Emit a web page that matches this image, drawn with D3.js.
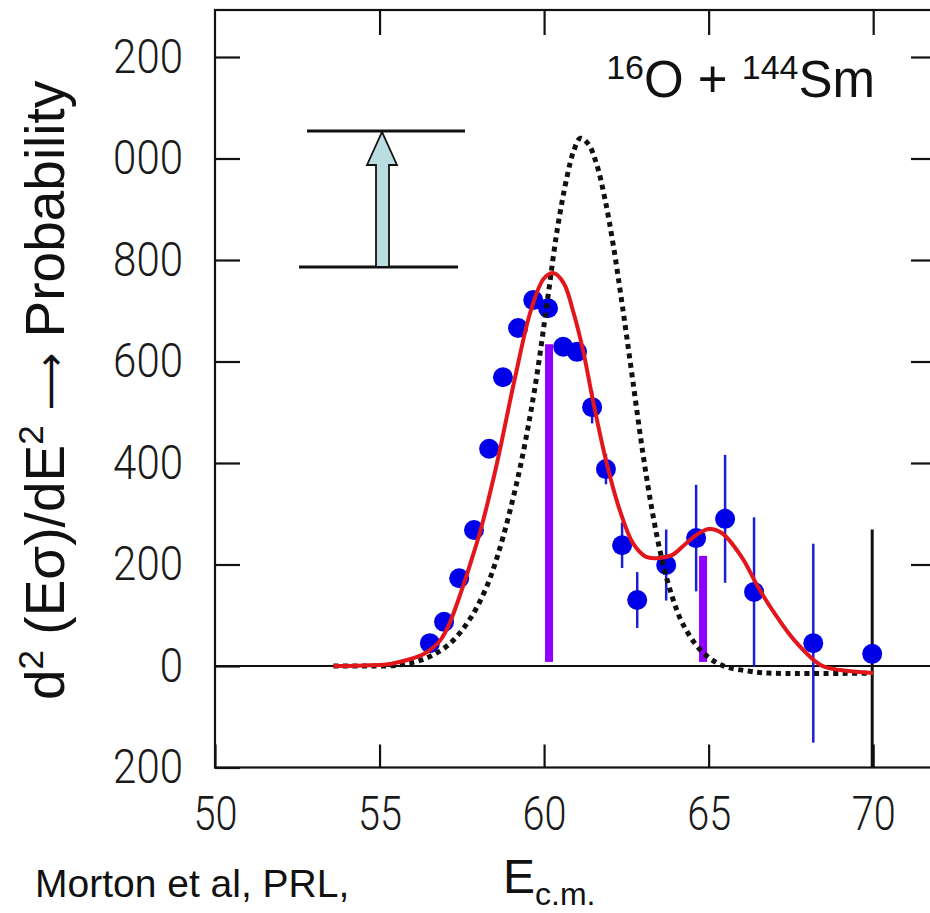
<!DOCTYPE html>
<html>
<head>
<meta charset="utf-8">
<script src="https://cdn.jsdelivr.net/npm/d3@7"></script>
<style>
  body { margin: 0; background: #fff; }
  svg { display: block; }
  .tick text { font-family: Roboto, "Liberation Sans", Arial, sans-serif; font-weight: 300; fill: #1a1a1a; }
</style>
</head>
<body>
<div id="chart"></div>
<script>
// axis ticks (left labels are cropped in the original figure)
const xTicks = [50, 55, 60, 65, 70];
const yTicks = [1200, 1000, 800, 600, 400, 200, 0, -200];
const yTickLabels = ["200", "000", "800", "600", "400", "200", "0", "200"];

// measured barrier distribution
const dataE = [56.53, 56.96, 57.42, 57.87, 58.33, 58.75, 59.21, 59.67, 60.12, 60.58, 61.0, 61.46, 61.88, 62.37, 62.83, 63.71, 64.62, 65.50, 66.38, 68.18, 69.97];
const dataY = [45, 87, 173, 268, 428, 569, 666, 721, 705, 629, 619, 510, 388, 238, 130, 199, 252, 290, 146, 45, 24];
const dataErr = [8, 8, 8, 8, 8, 8, 8, 8, 10, 15, 18, 32, 30, 45, 55, 70, 105, 126, 147, 196, 245];

// coupled-channels fit (red)
const fitE = [53.6, 54.5, 55.2, 55.6, 56.0, 56.3, 56.6, 56.84, 57.1, 57.5, 57.8, 58.1, 58.57, 59.1, 59.6, 60.0, 60.3, 60.6, 60.9, 61.2, 61.5, 61.9, 62.3, 62.7, 63.1, 63.5, 63.9, 64.2, 64.6, 65.0, 65.4, 66.0, 66.5, 67.0, 67.6, 68.4, 69.0, 70.0];
const fitY = [0, 1, 3, 8, 15, 22, 35, 50, 80, 150, 210, 275, 400, 563, 701, 764, 774, 754, 695, 617, 518, 400, 307, 242, 215, 213, 219, 235, 257, 270, 262, 215, 156, 104, 51, 2, -8, -14];

// single-barrier (no coupling) calculation (dotted)
const nocE = [53.6, 54.6, 55.6, 56.4, 57.1, 57.7, 58.2, 58.6, 59.2, 59.7, 60.1, 60.4, 60.7, 60.9, 61.1, 61.35, 61.6, 61.85, 62.1, 62.4, 62.7, 63.0, 63.3, 63.6, 63.9, 64.2, 64.7, 65.2, 65.6, 66.2, 66.8, 70.0];
const nocY = [0, 0, 2, 15, 42, 88, 148, 220, 370, 540, 720, 860, 965, 1015, 1040, 1028, 988, 920, 830, 700, 560, 420, 300, 205, 135, 85, 35, 8, -3, -10, -14, -14];

// eigenchannel barrier weights (purple)
const barrierE = [60.15, 64.83];
const barrierW = [634, 217];
const barrierBase = 8;

const width = 930, height = 913;
const svg = d3.select("#chart").append("svg")
  .attr("width", width).attr("height", height);

const x = d3.scaleLinear().domain([50, 72]).range([215, 939]);
const y = d3.scaleLinear().domain([-200, 1200]).range([767.5, 57]);
const yTop = y.invert(10);

// frame
svg.append("rect")
  .attr("x", x(50)).attr("y", y(yTop))
  .attr("width", x(72) - x(50)).attr("height", y(-200) - y(yTop))
  .attr("fill", "none").attr("stroke", "#111").attr("stroke-width", 2.2);

const axisStyle = g => {
  g.select(".domain").remove();
  g.selectAll(".tick line").attr("stroke", "#111").attr("stroke-width", 2.2);
};

svg.append("g")
  .attr("transform", `translate(${x(50)},0)`)
  .call(d3.axisLeft(y).tickValues(yTicks).tickSize(-25).tickPadding(32)
    .tickFormat((d, i) => yTickLabels[i]))
  .call(axisStyle)
  .call(g => g.selectAll(".tick text")
    .attr("font-size", 48)
    .attr("textLength", d => 23.3 * yTickLabels[yTicks.indexOf(d)].length)
    .attr("lengthAdjust", "spacingAndGlyphs"));

svg.append("g")
  .attr("transform", `translate(${x(72)},0)`)
  .call(d3.axisRight(y).tickValues(yTicks.slice(0, 6)).tickSize(-28).tickFormat(""))
  .call(axisStyle);

svg.append("g")
  .attr("transform", `translate(0,${y(-200)})`)
  .call(d3.axisBottom(x).tickValues(xTicks).tickSize(-23).tickPadding(28).tickFormat(d3.format("d")))
  .call(axisStyle)
  .call(g => g.selectAll(".tick text")
    .attr("font-size", 48)
    .attr("textLength", 44)
    .attr("lengthAdjust", "spacingAndGlyphs"));

svg.append("g")
  .attr("transform", `translate(0,${y(yTop)})`)
  .call(d3.axisTop(x).tickValues(xTicks.slice(1)).tickSize(-25).tickFormat(""))
  .call(axisStyle);

// zero line
svg.append("line")
  .attr("x1", x(50)).attr("x2", x(72))
  .attr("y1", y(0)).attr("y2", y(0))
  .attr("stroke", "#111").attr("stroke-width", 1.8);

// barrier weights
svg.selectAll(".bar")
  .data(barrierE)
  .enter().append("rect")
  .attr("class", "bar")
  .attr("x", d => x(d) - 4)
  .attr("width", 8)
  .attr("y", (d, i) => y(barrierW[i]))
  .attr("height", (d, i) => y(barrierBase) - y(barrierW[i]))
  .attr("fill", "#9000ff");

// error bars
svg.selectAll(".err")
  .data(dataE)
  .enter().append("line")
  .attr("class", "err")
  .attr("x1", d => x(d)).attr("x2", d => x(d))
  .attr("y1", (d, i) => y(dataY[i] + dataErr[i]))
  .attr("y2", (d, i) => Math.min(y(dataY[i] - dataErr[i]), y(-200)))
  .attr("stroke", (d, i) => i === dataE.length - 1 ? "#111" : "#1c1cdc")
  .attr("stroke-width", (d, i) => i === dataE.length - 1 ? 3 : 2.5);

// data points
svg.selectAll(".pt")
  .data(dataE)
  .enter().append("circle")
  .attr("class", "pt")
  .attr("cx", d => x(d))
  .attr("cy", (d, i) => y(dataY[i]))
  .attr("r", 10)
  .attr("fill", "#0000e8");

const line = d3.line()
  .x(d => x(d[0]))
  .y(d => y(d[1]))
  .curve(d3.curveCatmullRom.alpha(0.5));

svg.append("path")
  .attr("d", line(d3.zip(nocE, nocY)))
  .attr("fill", "none")
  .attr("stroke", "#111")
  .attr("stroke-width", 5)
  .attr("stroke-dasharray", "5 4.5");

svg.append("path")
  .attr("d", line(d3.zip(fitE, fitY)))
  .attr("fill", "none")
  .attr("stroke", "#e3161b")
  .attr("stroke-width", 4);

// level scheme sketch
const levels = svg.append("g");
levels.append("line")
  .attr("x1", 307).attr("x2", 465).attr("y1", 131).attr("y2", 131)
  .attr("stroke", "#111").attr("stroke-width", 3);
levels.append("line")
  .attr("x1", 299).attr("x2", 458).attr("y1", 267).attr("y2", 267)
  .attr("stroke", "#111").attr("stroke-width", 3);
levels.append("path")
  .attr("d", "M376,267 L376,165 L367,165 L382,132 L397,165 L389,165 L389,267 Z")
  .attr("fill", "#b9dde1").attr("stroke", "#111").attr("stroke-width", 1.8);

// reaction label
const title = svg.append("text")
  .attr("x", 875).attr("y", 97)
  .attr("text-anchor", "end")
  .attr("font-family", "Liberation Sans, Arial, sans-serif")
  .attr("font-size", 51)
  .attr("fill", "#111");
title.append("tspan").attr("font-size", 34).attr("dy", -18).text("16");
title.append("tspan").attr("dy", 18).text("O + ");
title.append("tspan").attr("font-size", 34).attr("dy", -18).text("144");
title.append("tspan").attr("dy", 18).text("Sm");

// y axis title
const yt = svg.append("text")
  .attr("transform", "translate(64,700) rotate(-90)")
  .attr("text-anchor", "start")
  .attr("font-family", "Liberation Sans, Arial, sans-serif")
  .attr("font-size", 55)
  .attr("fill", "#111")
  .style("white-space", "pre");
yt.append("tspan").text("d");
yt.append("tspan").attr("font-size", 35).attr("dy", -21).text("2");
yt.append("tspan").attr("dy", 21).text(" (Eσ)/dE");
yt.append("tspan").attr("font-size", 35).attr("dy", -21).text("2");
yt.append("tspan").attr("dy", 21).text(" ");
yt.append("tspan")
  .attr("font-family", "DejaVu Sans, sans-serif")
  .attr("font-size", 40)
  .text("⟶");
yt.append("tspan").text(" Probability");

// x axis title
const xt = svg.append("text")
  .attr("x", 503).attr("y", 893)
  .attr("font-family", "Liberation Sans, Arial, sans-serif")
  .attr("font-size", 48)
  .attr("fill", "#111");
xt.append("tspan").text("E");
xt.append("tspan").attr("font-size", 32).attr("dy", 12).text("c.m.");

svg.append("text")
  .attr("x", 35).attr("y", 897)
  .attr("font-family", "Liberation Sans, Arial, sans-serif")
  .attr("font-size", 39)
  .attr("fill", "#111")
  .text("Morton et al, PRL,");
</script>
</body>
</html>
